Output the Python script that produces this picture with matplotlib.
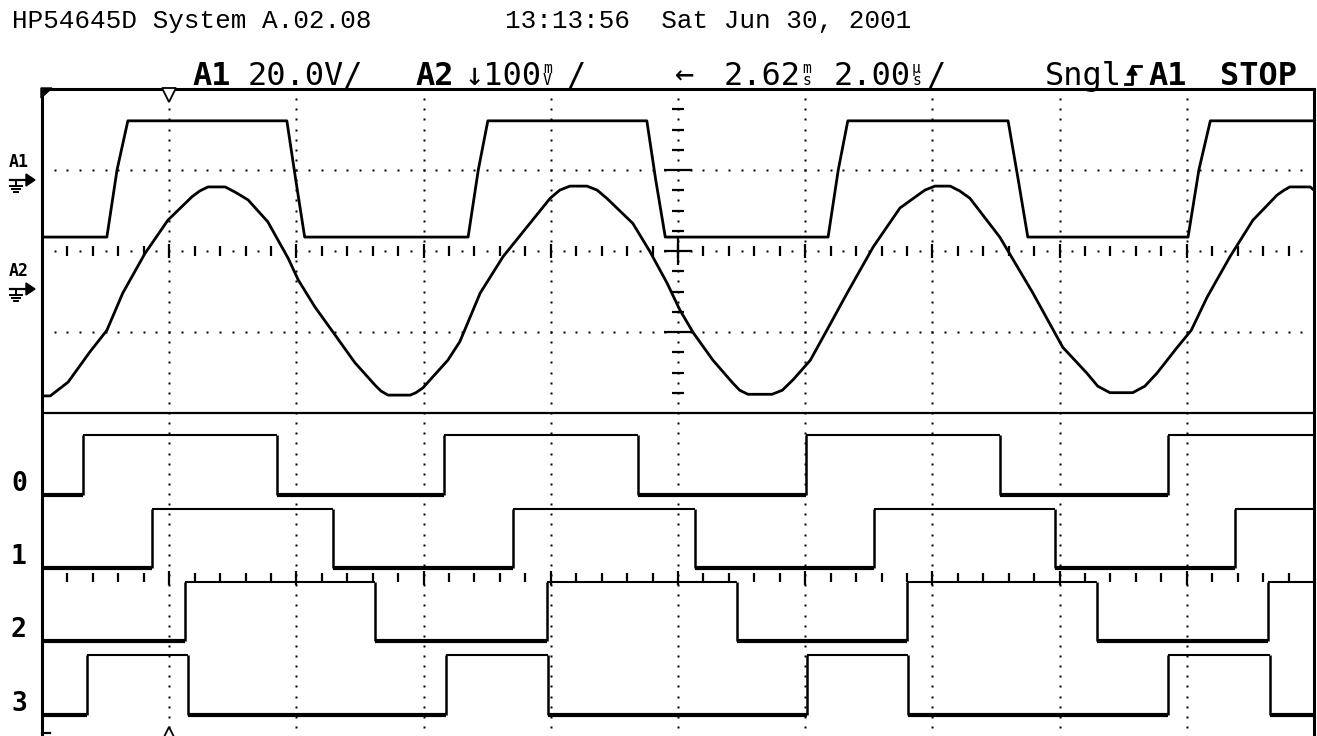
"""HP54645D screen dump: two analog channels and four digital channels"""

import numpy as np
import matplotlib
matplotlib.use("Agg")
import matplotlib.pyplot as plt
from matplotlib.collections import LineCollection
from matplotlib.patches import Polygon

# header text
header_model = "HP54645D System A.02.08"
header_time = "13:13:56  Sat Jun 30, 2001"

# scope settings
time_scale = 2.0     # us/div
a1_scale = 20.0      # V/div
a2_scale = 100.0     # mV/div
trig_t = -8.0        # trigger point, us

# channel A1 (square wave), time in us, volts
a1_t = [-10.0, -8.98, -8.82, -8.65, -6.15, -6.01, -5.87, -3.30, -3.14, -2.99,
        -0.49, -0.35, -0.20, 2.36, 2.52, 2.67, 5.19, 5.35, 5.50, 8.02, 8.19,
        8.37, 10.0]
a1_v = [-14.1, -14.1, 2.5, 14.6, 14.6, 0.0, -14.1, -14.1, 2.5, 14.6,
        14.6, 0.0, -14.1, -14.1, 2.5, 14.6, 14.6, 0.0, -14.1, -14.1, 2.5,
        14.6, 14.6]

# channel A2 (sine), time in us, mV
a2_t = [-10.00, -9.87, -9.59, -9.25, -8.98, -8.73, -8.38, -8.02, -7.64, -7.52,
        -7.39, -7.12, -6.95, -6.76, -6.45, -6.13, -5.97, -5.71, -5.39, -5.08,
        -4.76, -4.67, -4.56, -4.21, -4.12, -4.01, -3.62, -3.43, -3.11, -2.75,
        -2.37, -2.01, -1.86, -1.70, -1.43, -1.27, -1.12, -0.71, -0.44, -0.17,
        0.03, 0.24, 0.55, 0.86, 0.97, 1.10, 1.48, 1.64, 1.81, 2.08,
        2.34, 2.66, 3.07, 3.49, 3.88, 4.04, 4.28, 4.43, 4.59, 5.06,
        5.58, 6.05, 6.43, 6.60, 6.79, 7.15, 7.34, 7.53, 7.85, 8.07,
        8.32, 8.68, 9.04, 9.42, 9.53, 9.62, 9.94, 10.00]
a2_mv = [-132, -132, -115, -78, -51, -5, 44, 85, 114, 121,
         126, 126, 119, 110, 83, 38, 11, -22, -57, -91,
         -119, -126, -131, -131, -128, -122, -88, -65, -5, 40,
         77, 112, 122, 127, 127, 122, 112, 81, 46, 7,
         -26, -54, -88, -116, -125, -130, -130, -125, -112, -88,
         -51, -5, 52, 100, 122, 127, 127, 121, 112, 64,
         -5, -72, -104, -120, -128, -128, -120, -104, -72, -51,
         -10, 40, 85, 116, 122, 126, 126, 122]

# digital channels: edge times in us, every channel starts low
dig_labels = ["0", "1", "2", "3"]
dig_edges = [
    [-9.36, -6.31, -3.68, -0.63, 2.01, 5.06, 7.70],
    [-8.27, -5.42, -2.59, 0.27, 3.08, 5.93, 8.76],
    [-7.75, -4.76, -2.06, 0.93, 3.60, 6.59, 9.28],
    [-9.29, -7.70, -3.65, -2.04, 2.03, 3.62, 7.70, 9.31],
]

# ---------------------------------------------------------------- layout
W, H = 1317, 736
scr_l, scr_r, scr_t, scr_b = 42, 1314, 89, 736
div_px = 81.0
a1_gnd = 2.877      # ground marker positions, in divisions
a2_gnd = 1.531
dig_base = [-1.01 - 0.905 * k for k in range(4)]
dig_h = 0.735


def px_y(d):
    return scr_t + (4 - d) * div_px


fig = plt.figure(figsize=(W / 100, H / 100), dpi=100)
fig.patch.set_facecolor("white")

ax = fig.add_axes([scr_l / W, 0, (scr_r - scr_l) / W, (scr_b - scr_t) / H])
ax.set_xlim(-5 * time_scale, 5 * time_scale)
ylo = 4 - (scr_b - scr_t) / div_px
ax.set_ylim(ylo, 4)
ax.set_xticks([])
ax.set_yticks([])
for s in ["top", "left", "right"]:
    ax.spines[s].set_linewidth(2.2)
ax.spines["bottom"].set_visible(False)
ax.axhline(0, color="k", lw=1.6)

# dotted graticule
grid_x = np.arange(-8, 9, 2)
dot_y = np.arange(np.ceil(ylo * 8) / 8, 4, 1 / 8)
dot_kw = dict(ls="none", marker="s", ms=1.6, mec="none", mfc="k")
for gx in grid_x:
    ax.plot(np.full_like(dot_y, gx), dot_y, **dot_kw)
dot_x = np.arange(-9.8, 10, 0.2)
for gy in [1, 3]:
    ax.plot(dot_x, np.full_like(dot_x, gy), **dot_kw)
ctr_dots = np.arange(-9.8, 10, 0.4)
ax.plot(ctr_dots, np.full_like(ctr_dots, 2), **dot_kw)

# tick marks on the centre lines
ticks = []
for t in np.arange(-9.6, 9.7, 0.4):
    major = abs(t - round(t)) < 1e-6 and round(t) % 2 == 0
    h = 0.09 if major else 0.06
    ticks.append([(t, 2 - h), (t, 2 + h)])
    hd = 0.09 if major else 0.055
    ticks.append([(t, -2.035 - hd), (t, -2.035 + hd)])
for k in range(1, 16):
    y = k / 4
    w = 0.22 if k % 4 == 0 else 0.1
    ticks.append([(-w, y), (w, y)])
ticks.append([(0, 2 - 0.17), (0, 2 + 0.17)])
ax.add_collection(LineCollection(ticks, colors="k", linewidths=1.6))

# analog traces
ax.plot(a1_t, a1_gnd + np.array(a1_v) / a1_scale, color="k", lw=2.0)
ax.plot(a2_t, a2_gnd + np.array(a2_mv) / a2_scale, color="k", lw=2.0)

# digital traces
for edges, base in zip(dig_edges, dig_base):
    t = [-10.0] + edges + [10.0]
    lows, highs = [], []
    for i in range(len(t) - 1):
        lvl = base + (i % 2) * dig_h
        (highs if i % 2 else lows).append([(t[i], lvl), (t[i + 1], lvl)])
    verts = [[(e, base), (e, base + dig_h)] for e in edges]
    ax.add_collection(LineCollection(lows, colors="k", linewidths=3.0))
    ax.add_collection(LineCollection(highs, colors="k", linewidths=1.5))
    ax.add_collection(LineCollection(verts, colors="k", linewidths=1.8))

# trigger markers
ax.plot(trig_t, 4 - 5.5 / div_px, marker="v", ms=10, mfc="white", mec="k",
        mew=1.3, clip_on=False, zorder=5)
ax.plot(trig_t, ylo + 2 / div_px, marker="^", ms=10, mfc="white", mec="k",
        mew=1.3, clip_on=False, zorder=5)

# ---------------------------------------------------------------- text overlay
deco = fig.add_axes([0, 0, 1, 1])
deco.set_xlim(0, W)
deco.set_ylim(H, 0)
deco.axis("off")
deco.patch.set_alpha(0)

deco.text(12, 28, header_model, family="Liberation Mono", fontsize=18.7,
          va="baseline")
deco.text(505, 28, header_time, family="Liberation Mono", fontsize=18.7,
          va="baseline")

mono = "DejaVu Sans Mono"
row_y = 85
big = 23
for x, s, wt in [(192, "A1", "bold"), (248, "20.0V/", "normal"),
                 (415, "A2", "bold"), (465, "\u2193100", "normal"),
                 (675, "\u2190", "normal"), (724, "2.62", "normal"),
                 (834, "2.00", "normal"), (1045, "Sngl", "normal"),
                 (1148, "A1", "bold"), (1220, "STOP", "bold")]:
    deco.text(x, row_y, s, family=mono, fontsize=big, fontweight=wt,
              va="baseline")
# stacked unit prefixes (m over V, m over s, u over s)
for x, unit in [(543, "m\nV"), (802, "m\ns"), (912, "\u00b5\ns")]:
    deco.text(x, row_y + 3, unit, family=mono, fontsize=10.5, va="bottom",
              linespacing=0.75)
deco.text(566, row_y, "/", family=mono, fontsize=big, va="baseline")
deco.text(926, row_y, "/", family=mono, fontsize=big, va="baseline")

# rising edge trigger symbol
deco.plot([1125, 1132, 1132, 1141], [84, 84, 66, 66], color="k", lw=2)
deco.add_patch(Polygon([(1127, 75), (1137, 75), (1132, 67)], closed=True,
                       color="k"))

# channel labels and ground markers
for lab, g in [("A1", a1_gnd), ("A2", a2_gnd)]:
    y = px_y(g)
    deco.text(9, y - 13, lab, family=mono, fontsize=12, fontweight="bold",
              va="baseline")
    deco.plot([10, 28], [y, y], color="k", lw=1.6)
    deco.add_patch(Polygon([(26, y - 6), (35, y), (26, y + 6)], closed=True,
                           color="k"))
    deco.plot([16, 16], [y, y + 6], color="k", lw=1.4)
    deco.plot([10, 22], [y + 6, y + 6], color="k", lw=1.4)
    deco.plot([12, 20], [y + 9, y + 9], color="k", lw=1.4)
    deco.plot([14, 18], [y + 12, y + 12], color="k", lw=1.4)

for lab, base in zip(dig_labels, dig_base):
    deco.text(11, px_y(base) - 11, lab, family=mono, fontsize=19,
              fontweight="bold", va="center")

# corner marks of the screen frame
deco.add_patch(Polygon([(41, 88), (52, 88), (41, 98)], closed=True, color="k"))
deco.plot([42, 50], [733, 733], color="k", lw=1.6)

fig.savefig("out.png", dpi=100, facecolor="white")
